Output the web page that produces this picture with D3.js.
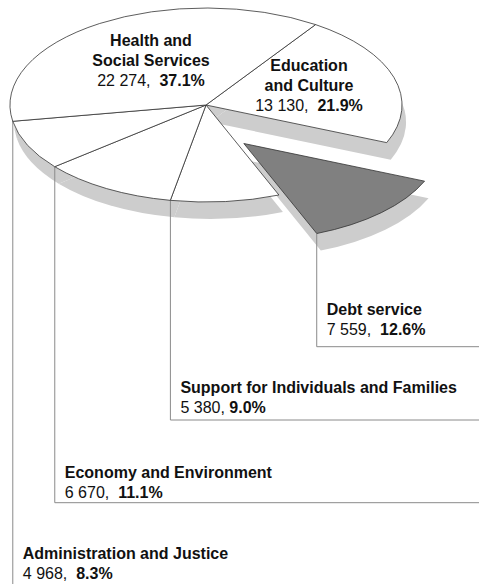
<!DOCTYPE html>
<html>
<head>
<meta charset="utf-8">
<script src="https://cdn.jsdelivr.net/npm/d3@7"></script>
<style>
  body { margin: 0; background: #fff; }
  text { font-family: "Liberation Sans", Arial, sans-serif; font-size: 16px; fill: #111; white-space: pre; }
</style>
</head>
<body>
<svg id="chart"></svg>
<script>
// budget shares (clockwise from the Health / Education boundary)
const categories = ["Education and Culture", "Debt service", "Support for Individuals and Families",
  "Economy and Environment", "Administration and Justice", "Health and Social Services"];
const values = [13130, 7559, 5380, 6670, 4968, 22274];
const labelLines = [["Education", "and Culture"], ["Debt service"], ["Support for Individuals and Families"],
  ["Economy and Environment"], ["Administration and Justice"], ["Health and", "Social Services"]];
const separators = [",  ", ",  ", ", ", ",  ", ",  ", ",  "];

const width = 479, height = 584;
const cx = 206, cy = 105, rx = 196, ry = 97;
const shadow = {dx: 4, dy: 17};
const explodeIndex = 1, explodeDist = 54;

// layout of the labels (inside the pie / at the end of leader lines)
const insideLabel = {0: {x: 309, y: 70.7}, 5: {x: 151, y: 45.7}};
const leaderY = {1: 346.7, 2: 420, 3: 502.7, 4: height + 5};
const outsideLabelY = {1: 315, 2: 392.7, 3: 477.7, 4: 559.3};

const total = d3.sum(values);
const fmt = d3.formatLocale({decimal: ".", thousands: " ", grouping: [3], currency: ["", ""]}).format(",");
const pct = v => (v / total * 100).toFixed(1) + "%";

const svg = d3.select("#chart").attr("width", width).attr("height", height);

const a0 = 34 * Math.PI / 180;
const pie = d3.pie().sort(null).value(d => d).startAngle(a0).endAngle(a0 + 2 * Math.PI);
const arcs = pie(values);
const arc = d3.arc().innerRadius(0).outerRadius(1);

function offset(d, i) {
  if (i !== explodeIndex) return [0, 0];
  let mid = (d.startAngle + d.endAngle) / 2;
  return [explodeDist * Math.sin(mid), -explodeDist * Math.cos(mid)];
}
function pointAt(a, o) {
  return [cx + o[0] + rx * Math.sin(a), cy + o[1] - ry * Math.cos(a)];
}

// shadows
svg.append("g").selectAll("path")
  .data(arcs)
  .join("path")
    .attr("d", arc)
    .attr("transform", (d, i) => {
      let o = offset(d, i);
      return `translate(${cx + o[0] + shadow.dx},${cy + o[1] + shadow.dy}) scale(${rx},${ry})`;
    })
    .attr("fill", "#cdcdcd");

// leader lines
const outside = arcs.map((d, i) => i).filter(i => leaderY[i] !== undefined);
svg.append("g").selectAll("path")
  .data(outside)
  .join("path")
    .attr("d", i => {
      let p = pointAt(arcs[i].endAngle, offset(arcs[i], i));
      let y = leaderY[i];
      return y > height ? `M${p[0]},${p[1]}V${y}` : `M${p[0]},${p[1]}V${y}H${width + 5}`;
    })
    .attr("fill", "none")
    .attr("stroke", "#8a8a8a")
    .attr("stroke-width", 1);

// slices
svg.append("g").selectAll("path")
  .data(arcs)
  .join("path")
    .attr("d", arc)
    .attr("transform", (d, i) => {
      let o = offset(d, i);
      return `translate(${cx + o[0]},${cy + o[1]}) scale(${rx},${ry})`;
    })
    .attr("fill", (d, i) => i === explodeIndex ? "#808080" : "#fff")
    .attr("stroke", "#333")
    .attr("stroke-width", 0.8)
    .attr("vector-effect", "non-scaling-stroke");

// labels
function valueLine(t, i) {
  t.append("tspan").text(fmt(values[i]) + separators[i]);
  t.append("tspan").attr("font-weight", "bold").text(pct(values[i]));
}

Object.keys(insideLabel).forEach(k => {
  let i = +k, L = insideLabel[k];
  labelLines[i].forEach((line, j) => {
    svg.append("text")
      .attr("x", L.x).attr("y", L.y + j * 20)
      .attr("text-anchor", "middle")
      .attr("font-weight", "bold")
      .text(line);
  });
  let t = svg.append("text")
    .attr("x", L.x).attr("y", L.y + labelLines[i].length * 20)
    .attr("text-anchor", "middle");
  valueLine(t, i);
});

outside.forEach(i => {
  let p = pointAt(arcs[i].endAngle, offset(arcs[i], i));
  let x = p[0] + 10, y = outsideLabelY[i];
  svg.append("text")
    .attr("x", x).attr("y", y)
    .attr("font-weight", "bold")
    .text(labelLines[i][0]);
  let t = svg.append("text").attr("x", x).attr("y", y + 20);
  valueLine(t, i);
});
</script>
</body>
</html>
